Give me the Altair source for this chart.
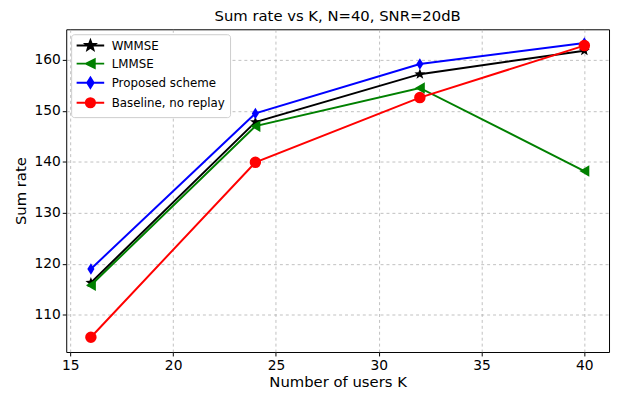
import math
import altair as alt
import pandas as pd

# ---- data ----
users_k = [16, 24, 32, 40]
wmmse = [116.3, 147.8, 157.2, 161.8]
lmmse = [115.8, 147.0, 154.5, 138.2]
proposed = [119.0, 149.5, 159.2, 163.3]
baseline = [105.6, 139.9, 152.6, 162.8]

series_names = ["WMMSE", "LMMSE", "Proposed scheme", "Baseline, no replay"]
series_values = [wmmse, lmmse, proposed, baseline]
series_colors = ["#000000", "#008000", "#0000ff", "#ff0000"]

x_ticks = [15, 20, 25, 30, 35, 40]
y_ticks = [110, 120, 130, 140, 150, 160]

rows = []
for name, vals in zip(series_names, series_values):
    for k, v in zip(users_k, vals):
        rows.append({"K": k, "rate": v, "series": name})
df = pd.DataFrame(rows)


# ---- marker shapes (unit coordinates) ----
def star_path(s=1.0):
    p = []
    for i in range(10):
        r = (1.0 if i % 2 == 0 else 0.42) * s
        a = -math.pi / 2 + i * math.pi / 5
        p.append(f"{r*math.cos(a):.3f},{r*math.sin(a):.3f}")
    return "M" + "L".join(p) + "Z"


def tri_left(s=1.0):
    return f"M{-s:.3f},0L{s:.3f},{-s:.3f}L{s:.3f},{s:.3f}Z"


def thin_diamond(s=1.0):
    return f"M0,{-s:.3f}L{0.62*s:.3f},0L0,{s:.3f}L{-0.62*s:.3f},0Z"


def circle(s=1.0):
    return (f"M{-s:.3f},0A{s:.3f},{s:.3f} 0 1,0 {s:.3f},0"
            f"A{s:.3f},{s:.3f} 0 1,0 {-s:.3f},0Z")


shapes = [star_path(), "triangle-left", thin_diamond(), "circle"]
seg = "M-2.55,0L2.55,0"
legend_shapes = [seg + star_path(0.95), seg + tri_left(0.8),
                 seg + thin_diamond(0.95), seg + circle(0.85)]

FONT = "DejaVu Sans"

x_enc = alt.X("K:Q", title="Number of users K",
              scale=alt.Scale(domain=[14.8, 41.2], nice=False, zero=False),
              axis=alt.Axis(values=x_ticks, format="d"))
y_enc = alt.Y("rate:Q", title="Sum rate",
              scale=alt.Scale(domain=[102.7, 166.0], nice=False, zero=False),
              axis=alt.Axis(values=y_ticks, format="d"))

lines = alt.Chart(df).mark_line(strokeWidth=2).encode(
    x=x_enc, y=y_enc,
    stroke=alt.Stroke("series:N", sort=series_names,
                      scale=alt.Scale(range=series_colors), legend=None),
    detail="series:N",
)

points = alt.Chart(df).mark_point(filled=True, opacity=1, size=135).encode(
    x=x_enc, y=y_enc,
    color=alt.Color("series:N",
                    scale=alt.Scale(domain=series_names, range=series_colors),
                    legend=None),
    shape=alt.Shape("series:N",
                    scale=alt.Scale(domain=series_names, range=shapes),
                    legend=None),
)

legend = alt.Legend(orient="top-left", offset=5, title=None,
                    symbolSize=120, labelFontSize=12,
                    labelFont=FONT, rowPadding=1.3, labelOffset=15,
                    symbolOffset=8, symbolStrokeWidth=2,
                    padding=5, strokeColor="#cccccc",
                    fillColor="white", cornerRadius=3)

# legend-only layer (draws no marks): line-through-marker legend symbols
legend_layer = alt.Chart(df).transform_filter("false").mark_point(
    filled=True, opacity=1, strokeWidth=2
).encode(
    x=x_enc, y=y_enc,
    color=alt.Color("series:N",
                    scale=alt.Scale(domain=series_names, range=series_colors),
                    legend=legend),
    stroke=alt.Stroke("series:N",
                      scale=alt.Scale(domain=series_names, range=series_colors),
                      legend=legend),
    shape=alt.Shape("series:N",
                    scale=alt.Scale(domain=series_names, range=legend_shapes),
                    legend=legend),
)

chart = alt.layer(lines, points, legend_layer).resolve_scale(
    color="independent", stroke="independent", shape="independent"
).properties(
    width=550, height=327,
    title=alt.Title("Sum rate vs K, N=40, SNR=20dB", fontSize=15,
                    font=FONT, fontWeight="normal", color="black", offset=5),
    autosize=alt.AutoSizeParams(type="none"),
    padding={"left": 59, "top": 19, "right": 2, "bottom": 42},
).configure_view(
    stroke="black", strokeWidth=1
).configure_axis(
    grid=True, gridDash=[3, 3], gridColor="#b0b0b0", gridWidth=0.8,
    domain=False, tickColor="black", tickSize=4,
    labelFont=FONT, labelFontSize=14, labelColor="black",
    titleFont=FONT, titleFontSize=15, titleFontWeight="normal",
    titleColor="black",
).configure_axisX(titlePadding=2, labelPadding=3).configure_axisY(titlePadding=6)

chart.save("out.html", embed_options={"renderer": "svg", "actions": False})
